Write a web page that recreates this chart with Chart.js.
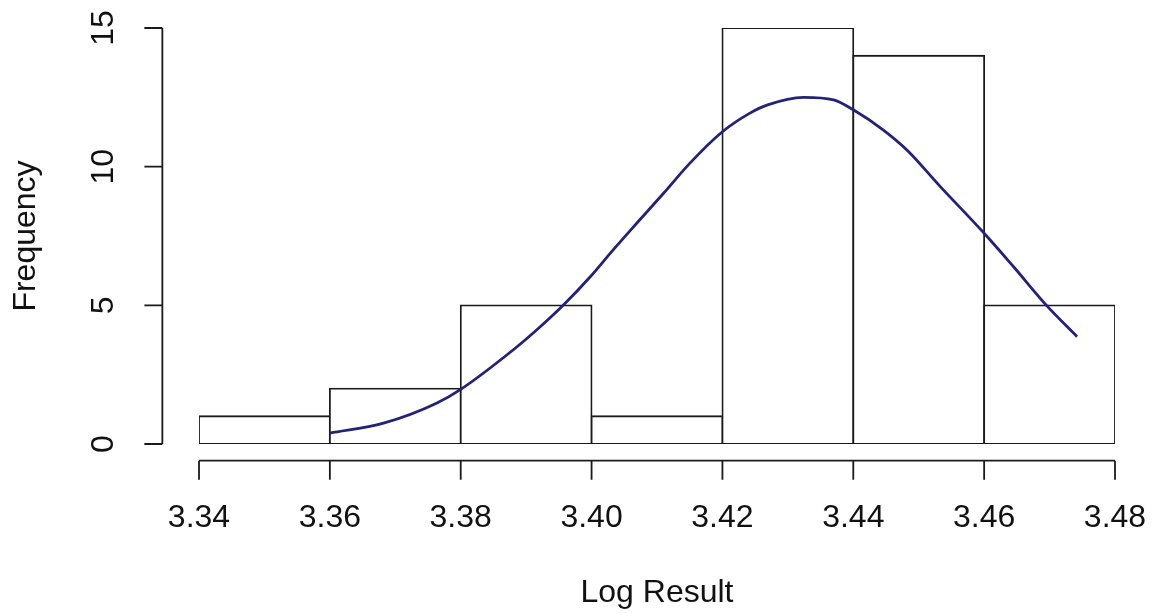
<!DOCTYPE html>
<html>
<head>
<meta charset="utf-8">
<script src="https://cdn.jsdelivr.net/npm/chart.js@4/dist/chart.umd.min.js"></script>
<style>
  body { margin: 0; background: #fff; }
  canvas { display: block; }
</style>
</head>
<body>
<canvas id="hist" width="1154" height="613"></canvas>
<script>
// histogram bins (left edges), width 0.02
const binStarts = [3.34, 3.36, 3.38, 3.40, 3.42, 3.44, 3.46];
const counts = [1, 2, 5, 1, 15, 14, 5];
const binWidth = 0.02;

// fitted curve
const curveX = [3.3600, 3.3682, 3.3763, 3.3800, 3.3880, 3.3916, 3.3957, 3.3998, 3.4033, 3.4069,
                3.4110, 3.4150, 3.4200, 3.4242, 3.4268, 3.4324, 3.4370, 3.4400, 3.4446, 3.4482,
                3.4533, 3.4600, 3.4645, 3.4696, 3.4742];
const curveY = [0.39, 0.75, 1.47, 1.97, 3.39, 4.11, 5.01, 6.03, 7.00, 7.96,
                9.04, 10.12, 11.26, 11.93, 12.22, 12.50, 12.41, 12.05, 11.32, 10.60,
                9.28, 7.60, 6.39, 4.98, 3.87];

const xTicks = [3.34, 3.36, 3.38, 3.40, 3.42, 3.44, 3.46, 3.48];
const yTicks = [0, 5, 10, 15];

const font = { family: 'Liberation Sans, Arial, sans-serif', size: 32 };

// R style axes: detached lines with outward ticks
const rAxes = {
  id: 'rAxes',
  afterDraw(chart) {
    const { ctx, scales: { x, y } } = chart;
    const axisY = y.getPixelForValue(-0.6);   // 4% below 0
    const axisX = x.getPixelForValue(3.3344); // 4% left of 3.34
    ctx.save();
    ctx.strokeStyle = '#1a1a1a';
    ctx.lineWidth = 1.8;
    ctx.beginPath();
    ctx.moveTo(x.getPixelForValue(xTicks[0]), axisY);
    ctx.lineTo(x.getPixelForValue(xTicks[xTicks.length - 1]), axisY);
    xTicks.forEach(v => {
      const px = x.getPixelForValue(v);
      ctx.moveTo(px, axisY);
      ctx.lineTo(px, axisY + 19);
    });
    ctx.moveTo(axisX, y.getPixelForValue(yTicks[0]));
    ctx.lineTo(axisX, y.getPixelForValue(yTicks[yTicks.length - 1]));
    yTicks.forEach(v => {
      const py = y.getPixelForValue(v);
      ctx.moveTo(axisX, py);
      ctx.lineTo(axisX - 18, py);
    });
    ctx.stroke();
    ctx.restore();
  }
};

new Chart(document.getElementById('hist'), {
  data: {
    datasets: [
      {
        type: 'line',
        data: curveX.map((v, i) => ({ x: v, y: curveY[i] })),
        borderColor: '#22227a',
        borderWidth: 2.8,
        pointRadius: 0,
        cubicInterpolationMode: 'monotone',
        order: 0
      },
      {
        type: 'bar',
        data: binStarts.map((v, i) => ({ x: v + binWidth / 2, y: counts[i] })),
        backgroundColor: '#ffffff',
        borderColor: '#1a1a1a',
        borderWidth: 1.8,
        inflateAmount: 0.9,
        borderSkipped: false,
        barPercentage: 1,
        categoryPercentage: 1,
        order: 1
      }
    ]
  },
  options: {
    responsive: false,
    animation: false,
    layout: { padding: { top: 28, right: 39, left: 0, bottom: 0 } },
    plugins: { legend: { display: false }, tooltip: { enabled: false } },
    scales: {
      x: {
        type: 'linear',
        min: 3.34,
        max: 3.48,
        offset: false,
        grid: { display: false, drawTicks: false, offset: false },
        border: { display: false },
        afterBuildTicks: s => { s.ticks = xTicks.map(v => ({ value: v })); },
        afterFit: s => { s.height = 169; s.paddingLeft = 0; s.paddingRight = 0; },
        ticks: {
          padding: 55,
          color: '#111',
          font: font,
          maxRotation: 0,
          autoSkip: false,
          callback: v => v.toFixed(2)
        },
        title: { display: true, text: 'Log Result', color: '#111', font: font, padding: { top: 0, bottom: 1 } }
      },
      y: {
        min: 0,
        max: 15,
        grid: { display: false, drawTicks: false },
        border: { display: false },
        afterBuildTicks: s => { s.ticks = yTicks.map(v => ({ value: v })); },
        afterFit: s => { s.width = 199; s.paddingTop = 0; s.paddingBottom = 0; },
        ticks: {
          padding: 77,
          color: '#111',
          font: font,
          minRotation: 90,
          maxRotation: 90,
          crossAlign: 'center',
          autoSkip: false
        },
        title: { display: true, text: 'Frequency', color: '#111', font: font, padding: { top: 7, bottom: 0 } }
      }
    }
  },
  plugins: [rAxes]
});
</script>
</body>
</html>
